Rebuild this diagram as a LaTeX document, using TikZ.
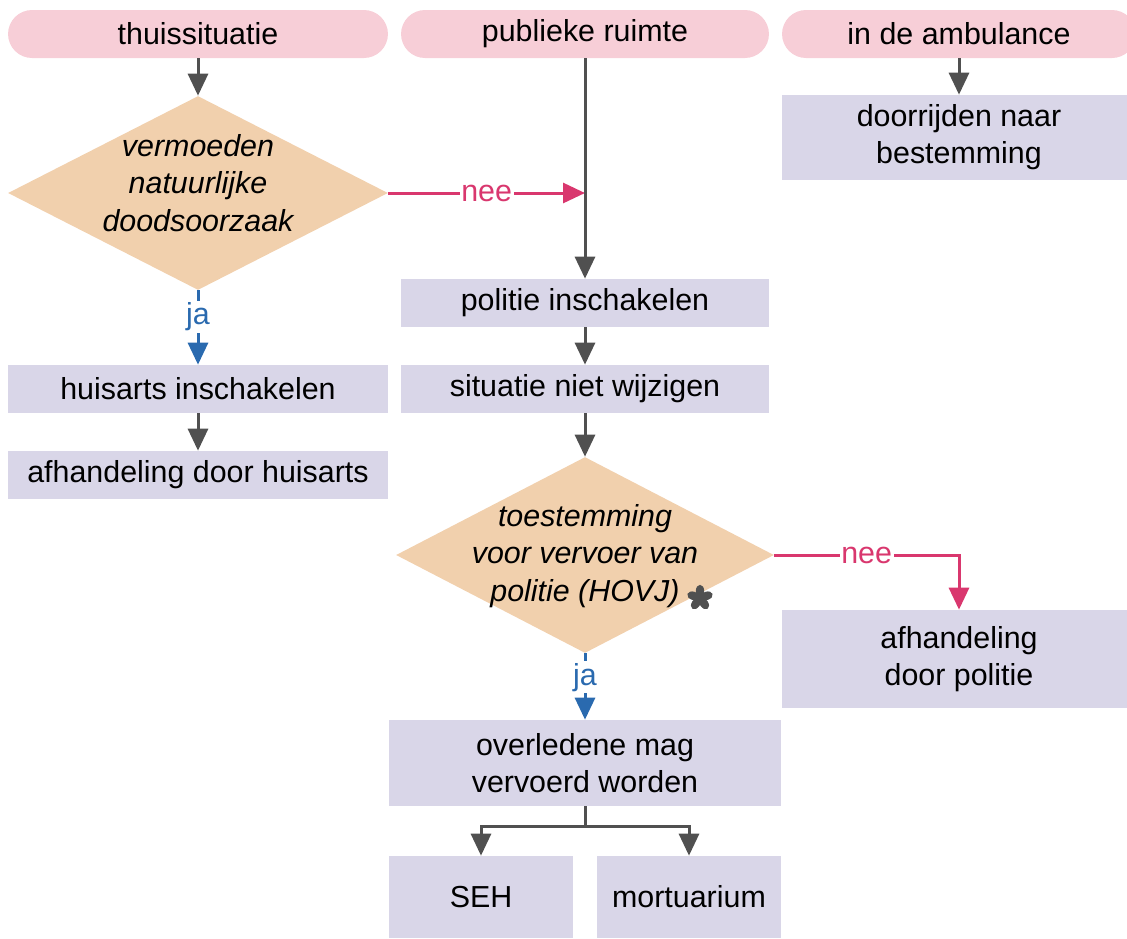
\documentclass[tikz,border=0pt]{standalone}
\usepackage{fontspec}
\setmainfont{Liberation Sans}
\usetikzlibrary{shapes.geometric, arrows.meta, positioning}
\definecolor{koproze}{HTML}{F7CED7}
\definecolor{staplila}{HTML}{D9D6E8}
\definecolor{keuzeoranje}{HTML}{F1D0AD}
\definecolor{pijlgrijs}{HTML}{505050}
\definecolor{neeroze}{HTML}{D9376E}
\definecolor{jablauw}{HTML}{2A6AAF}
\tikzset{
  % kop van een kolom
  kop/.style={rounded corners=0.48cm, fill=koproze, minimum height=0.96cm, align=center},
  % stap in het schema
  stap/.style={fill=staplila, minimum height=0.96cm, align=center, inner sep=2pt},
  % beslissing (ruit zonder tekst, tekst apart)
  keuze/.style={diamond, fill=keuzeoranje, inner sep=0pt},
  keuzetekst/.style={align=center, font=\fontsize{17.3}{21.2}\selectfont\itshape},
  % verbindingen
  pijl/.style={-{Triangle[length=0.44cm, width=0.4cm]}, line width=0.06cm, pijlgrijs},
  neepijl/.style={pijl, neeroze},
  japijl/.style={pijl, jablauw},
  % antwoord bij een pijl
  antw/.style={fill=white, inner sep=1pt},
}

\begin{document}
\begin{tikzpicture}[x=0.02cm, y=-0.02cm, every node/.style={font=\fontsize{17.3}{21.2}\selectfont}]
  \useasboundingbox (0,0) rectangle (1127,938);
  % koppen
  \node[kop, minimum width=7.6cm] (thuis) at (198,34) {thuissituatie};
  \node[kop, minimum width=7.36cm] (publiek) at (585,34) {publieke ruimte};
  \node[kop, minimum width=7.08cm] (ambu) at (959,34) {in de ambulance};
  % kolom thuissituatie
  \node[keuze, minimum width=7.6cm, minimum height=3.88cm] (natuur) at (198,193) {};
  \node[keuzetekst] (natuurtekst) at (198,183) {vermoeden\\natuurlijke\\doodsoorzaak};
  \node[stap, minimum width=7.6cm] (huisarts) at (198,389) {huisarts inschakelen};
  \node[stap, minimum width=7.6cm] (afhhuis) at (198,475) {afhandeling door huisarts};
  % kolom publieke ruimte
  \node[stap, minimum width=7.36cm] (politie) at (585,303) {politie inschakelen};
  \node[stap, minimum width=7.36cm] (situatie) at (585,389) {situatie niet wijzigen};
  \node[keuze, minimum width=7.56cm, minimum height=3.92cm] (hovj) at (585,555) {};
  \node[keuzetekst] (hovjtekst) at (585,556) {toestemming\\voor vervoer van\\politie (HOVJ)};
  \node[stap, minimum width=7.84cm, minimum height=1.72cm] (vervoer) at (585,763) {overledene mag\\vervoerd worden};
  \node[stap, minimum width=3.68cm, minimum height=1.64cm] (seh) at (481,897) {SEH};
  \node[stap, minimum width=3.68cm, minimum height=1.64cm] (mort) at (689,897) {mortuarium};
  % kolom ambulance
  \node[stap, minimum width=7.08cm, minimum height=1.7cm] (rijden) at (959,137.5) {doorrijden naar\\bestemming};
  \node[stap, minimum width=7.08cm, minimum height=1.96cm] (afhpol) at (959,659) {afhandeling\\door politie};
  % sterretje bij HOVJ
  \begin{scope}[shift={(700,598)}]
    \foreach \h in {90,162,234,306,378}
      \fill[pijlgrijs, rotate=\h] (7,0) ellipse (6.2 and 4.2);
    \fill[pijlgrijs] (0,0) circle (3.5);
  \end{scope}
  % verbindingen
  \coordinate (samen) at (publiek.south |- natuur.east);
  \draw[pijl] (thuis) -- (natuur.north);
  \draw[neepijl] (natuur.east) -- node[antw, text=neeroze] (nee1) {nee} (samen);
  \draw[japijl] (natuur.south) -- node[antw, pos=0.36, text=jablauw] (ja1) {ja} (huisarts);
  \draw[pijl] (huisarts) -- (afhhuis);
  \draw[pijl] (publiek) -- (politie);
  \draw[pijl] (politie) -- (situatie);
  \draw[pijl] (situatie) -- (hovj.north);
  \draw[neepijl] (hovj.east) -| node[antw, pos=0.25, text=neeroze] (nee2) {nee} (afhpol);
  \draw[japijl] (hovj.south) -- node[antw, pos=0.36, text=jablauw] (ja2) {ja} (vervoer);
  \draw[pijl] (vervoer.south) -- ++(0,20) -| (seh);
  \draw[pijl] (vervoer.south) -- ++(0,20) -| (mort);
  \draw[pijl] (ambu) -- (rijden);
\end{tikzpicture}
\end{document}
